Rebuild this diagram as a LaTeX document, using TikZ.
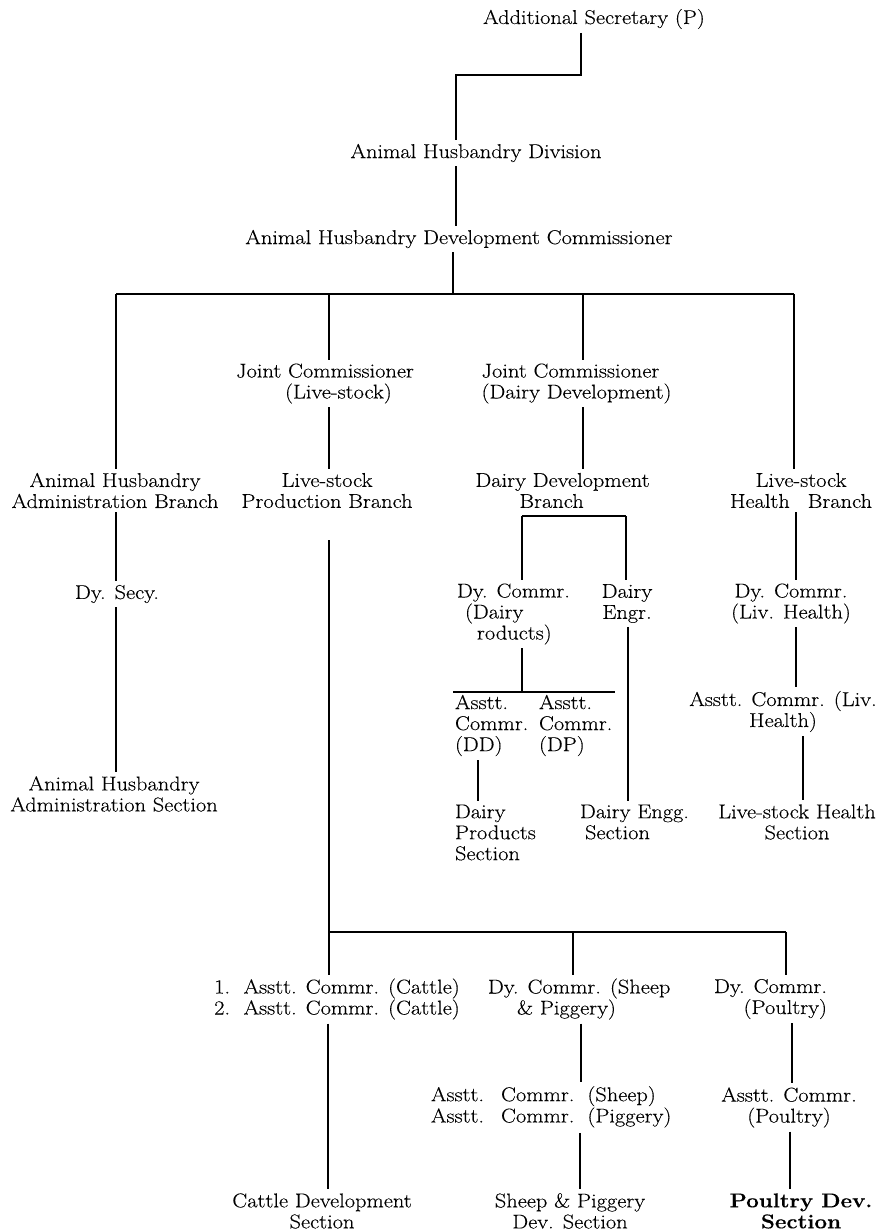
\documentclass[tikz,border=0pt]{standalone}
\usepackage{fontspec}
\setmainfont{Latin Modern Roman}[FakeStretch=1.12, FakeBold=0.25]
\begin{document}
\begin{tikzpicture}[x=1pt,y=-1pt,
  every node/.style={inner sep=0pt, outer sep=4pt, font=\fontsize{20}{21}\selectfont},
  ln/.style={line width=1.1pt, black},
  thickln/.style={line width=1.8pt, black}]
\useasboundingbox (0,0) rectangle (885,1232);
% nodes
\node (AS) at (594,19) {Additional Secretary (P)};
\node (AHDiv) at (476,153) {Animal Husbandry Division};
\node (AHDC) at (459,239) {Animal Husbandry Development Commissioner};
\node[align=left] (JCL) at (325,383.5) {Joint Commissioner\\\hspace*{49pt}(Live-stock)};
\node[align=left] (JCD) at (576.5,383.5) {Joint Commissioner\\(Dairy Development)};
\node[align=center] (AHAB) at (115,490.5) {Animal Husbandry\\Administration Branch};
\node[align=center] (LPB) at (327,490.5) {Live-stock\\Production Branch};
\node[align=left] (DDB) at (562.5,490.5) {Dairy Development\\\hspace*{44pt}Branch};
\node[align=center] (LHB) at (801,490.5) {Live-stock\\Health\hspace{18pt}Branch};
\node (DSecy) at (117,594) {Dy. Secy.};
\node[align=center] (AHAS) at (114,794) {Animal Husbandry\\Administration Section};
\node[align=left,anchor=west] (DCDP) at (453,614) {Dy. Commr.\\\hspace*{8pt}(Dairy\\\hspace*{20pt}roducts)};
\node[align=center] (DE) at (627,603.5) {Dairy\\Engr.};
\node[align=center] (DCLH) at (791,603.5) {Dy. Commr.\\(Liv. Health)};
\node[align=left,anchor=west] (AsDD) at (451,725.5) {Asstt.\\Commr.\\(DD)};
\node[align=left,anchor=west] (AsDP) at (535,725.5) {Asstt.\\Commr.\\(DP)};
\node[align=center] (ACLH) at (783,711.5) {Asstt. Commr. (Liv.\\Health)};
\node[align=left,anchor=west] (DPS) at (451,832.5) {Dairy\\Products\\Section};
\node[align=left,anchor=west] (DES) at (576,822) {Dairy Engg.\\\hspace*{5pt}Section};
\node[align=center] (LHS) at (797,822) {Live-stock Health\\Section};
\node[align=center] (C12) at (337,999) {1.\ \ Asstt. Commr. (Cattle)\\2.\ \ Asstt. Commr. (Cattle)};
\node[align=left,anchor=west] (DCSP) at (484,999) {Dy. Commr. (Sheep\\\hspace*{29pt}\& Piggery)};
\node[align=right,anchor=east] (DCP) at (831,999) {Dy. Commr.\\(Poultry)};
\node[anchor=west] (ACSP) at (427,1107.5) {\begin{tabular}{@{}l@{\hspace{17pt}}l@{\hspace{13pt}}l@{}}Asstt. & Commr. & (Sheep)\\ Asstt. & Commr. & (Piggery)\end{tabular}};
\node[align=center] (ACP) at (789,1107.5) {Asstt. Commr.\\(Poultry)};
\node[align=center] (CDS) at (322,1211) {Cattle Development\\Section};
\node[align=center] (SPS) at (570,1211) {Sheep \& Piggery\\Dev. Section};
\node[align=center,font=\fontsize{20}{21}\selectfont\bfseries] (PDS) at (801,1211) {Poultry\hspace{8pt}Dev.\\Section};
% junction coordinates
\coordinate (j1) at (581,75);
\coordinate (j2) at (456,75);
\coordinate (bL) at (116,294);
\coordinate (b0) at (453,294);
\coordinate (b1) at (329,294);
\coordinate (b2) at (583,294);
\coordinate (bR) at (794,294);
\coordinate (d1) at (522,516);
\coordinate (d2) at (626,516);
\coordinate (e0) at (522,692);
\coordinate (eL) at (453,692);
\coordinate (eR) at (615,692);
\coordinate (c0) at (329,932);
\coordinate (c1) at (573,932);
\coordinate (c2) at (786,932);
\coordinate (xA) at (478,0);
\coordinate (xB) at (628,0);
\coordinate (xC) at (796,0);
\coordinate (xD) at (803,0);
\coordinate (xE) at (328,0);
\coordinate (xF) at (581,0);
\coordinate (xG) at (580,0);
\coordinate (xH) at (792,0);
\coordinate (xI) at (790,0);
% connectors
\draw[ln] (AS.south -| j1) -- (j1) -- (j2) -- (j2 |- AHDiv.north);
\draw[ln] (AHDiv.south -| j2) -- (AHDC.north -| j2);
\draw[ln] (AHDC.south -| b0) -- (b0);
\draw[ln] (bL) -- (bR);
\draw[ln] (bL) -- (AHAB.north -| bL);
\draw[ln] (b1) -- (JCL.north -| b1);
\draw[ln] (b2) -- (JCD.north -| b2);
\draw[ln] (bR) -- (LHB.north -| bR);
\draw[ln] (JCL.south -| b1) -- (LPB.north -| b1);
\draw[ln] (JCD.south -| b2) -- (DDB.north -| b2);
\draw[ln] (AHAB.south -| bL) -- (DSecy.north -| bL);
\draw[ln] (DSecy.south -| bL) -- (AHAS.north -| bL);
\draw[ln] (d1) -- (d2);
\draw[ln] (d1) -- (DCDP.north -| d1);
\draw[ln] (d2) -- (DE.north -| d2);
\draw[ln] (DCDP.south -| e0) -- (e0);
\draw[ln] (eL) -- (eR);
\draw[ln] (AsDD.south -| xA) -- (DPS.north -| xA);
\draw[ln] (DE.south -| xB) -- (DES.north -| xB);
\draw[ln] (LHB.south -| xC) -- (DCLH.north -| xC);
\draw[ln] (DCLH.south -| xC) -- (ACLH.north -| xC);
\draw[ln] (ACLH.south -| xD) -- (LHS.north -| xD);
\draw[ln, shorten <=28pt] (LPB.south -| c0) -- (C12.north -| c0);
\draw[ln] (c0) -- (c2);
\draw[ln] (c1) -- (DCSP.north -| c1);
\draw[ln] (c2) -- (DCP.north -| c2);
\draw[ln] (C12.south -| xE) -- (CDS.north -| xE);
\draw[ln] (DCSP.south -| xF) -- (ACSP.north -| xF);
\draw[ln] (ACSP.south -| xG) -- (SPS.north -| xG);
\draw[ln] (DCP.south -| xH) -- (ACP.north -| xH);
\draw[thickln] (ACP.south -| xI) -- (PDS.north -| xI);
\end{tikzpicture}
\end{document}
